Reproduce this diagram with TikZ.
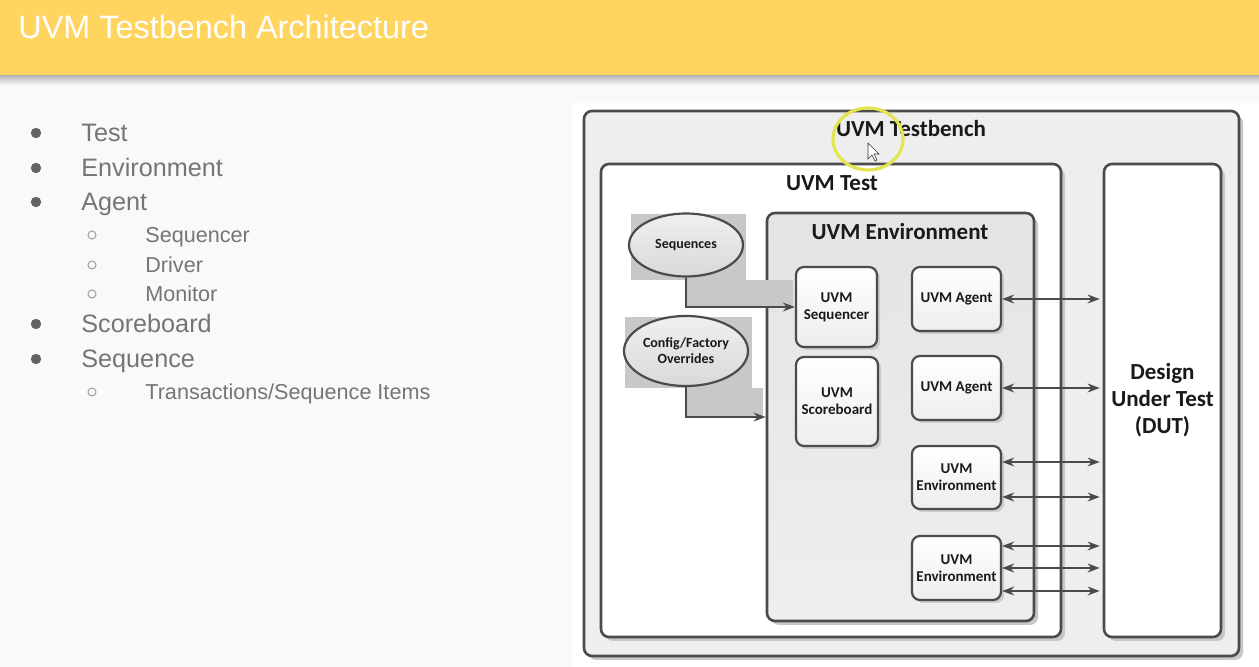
\documentclass[tikz,border=0pt]{standalone}
\usepackage{fontspec}
\setmainfont{Liberation Sans}
\newfontfamily\diafont{Carlito}
\usetikzlibrary{arrows,arrows.meta,positioning,shapes.geometric,shadows}
\definecolor{slideyellow}{RGB}{255,213,95}
\definecolor{slidegray}{RGB}{117,117,117}
\definecolor{slidebg}{RGB}{249,249,249}
\definecolor{linegray}{RGB}{75,75,75}
\definecolor{panelgray}{RGB}{238,238,238}
\definecolor{envgray}{RGB}{228,228,228}
\definecolor{blockgray}{RGB}{200,200,200}
\definecolor{pointer}{RGB}{228,228,80}

\begin{document}
\begin{tikzpicture}[x=0.5pt, y=-0.5pt]
\tikzset{
    tbframe/.style={rectangle, rounded corners=4pt, draw=linegray, line width=1.3pt, inner sep=0pt, drop shadow={shadow xshift=2pt, shadow yshift=-2pt, fill=black!22, opacity=1}},
    block/.style={rectangle, rounded corners=4pt, draw=linegray, line width=1.1pt, top color=white, bottom color=black!7, inner sep=1pt, align=center, text=black!90, font=\diafont\bfseries\fontsize{7.5}{8.5}\selectfont, drop shadow={shadow xshift=1.5pt, shadow yshift=-1.5pt, fill=black!20, opacity=1}},
    oval/.style={ellipse, draw=linegray, line width=1.1pt, top color=black!6, bottom color=black!15, inner sep=0pt, align=center, text=black!90, font=\diafont\bfseries\fontsize{7}{8}\selectfont},
    heading/.style={align=center, text=black!90, font=\diafont\bfseries\fontsize{11.5}{13.5}\selectfont},
    myarrow/.style={{Stealth[length=6pt,width=4.4pt]}-{Stealth[length=6pt,width=4.4pt]}, line width=1.3pt, draw=linegray, shorten >=1.5pt},
    feedarrow/.style={-{Stealth[length=6pt,width=4.4pt]}, line width=1.3pt, draw=linegray},
    listitem/.style={anchor=base west, inner sep=0pt, text=slidegray, font=\fontsize{12.6}{15}\selectfont},
    sublistitem/.style={anchor=base west, inner sep=0pt, text=slidegray, font=\fontsize{10.8}{13}\selectfont}
}
\useasboundingbox (0,0) rectangle (1259,667);
\fill[slidebg] (0,0) rectangle (1259,667);

% title bar
\shade[top color=black!30, bottom color=slidebg] (0,75) rectangle (1259,85);
\fill[slideyellow] (0,0) rectangle (1259,75);
\node[anchor=base west, inner sep=0pt, text=white, font=\fontsize{16.2}{19}\selectfont] (title) at (18,39) {UVM Testbench Architecture};

% bullet list
\foreach \n/\yy/\txt in {test/142/Test, env/177/Environment, agent/211/Agent, scb/333/Scoreboard, seq/368/Sequence} {
    \fill[slidegray!85!black] (36,\yy-9) circle (2.6pt);
    \node[listitem] (item-\n) at (81,\yy) {\txt};
}
\foreach \n/\yy/\txt in {sqr/243/Sequencer, drv/273/Driver, mon/302/Monitor} {
    \draw[slidegray!70, line width=0.5pt] (92,\yy-8) circle (2pt);
    \node[sublistitem] (sub-\n) at (145,\yy) {\txt};
}
\draw[slidegray!70, line width=0.5pt] (92,392) circle (2pt);
\node[sublistitem] (sub-trn) at (145,400) {Transactions/Sequence Items};

% diagram
\fill[white] (572,103) rectangle (1259,667);
\node[tbframe, fill=panelgray, minimum width=327.5pt, minimum height=272.5pt] (testbench) at (911.5,383.5) {};
\node[heading] (testbench-title) at (911,129) {UVM Testbench};
\node[tbframe, fill=white, minimum width=230pt, minimum height=236.5pt] (uvmtest) at (831,400.5) {};
\node[heading] (uvmtest-title) at (832,183) {UVM Test};
\node[tbframe, fill=white, heading, minimum width=58.5pt, minimum height=236.5pt] (dut) at (1162.5,400.5) {Design\\Under Test\\(DUT)};
\node[tbframe, top color=envgray, bottom color=panelgray, minimum width=133.5pt, minimum height=204pt] (env) at (900.5,417) {};
\node[heading] (env-title) at (900,232) {UVM Environment};

% grey blocks behind the inputs
\fill[blockgray] (631,214) rectangle (746,280);
\fill[blockgray] (687,280) rectangle (793,307);
\fill[blockgray] (625,317) rectangle (752,388);
\fill[blockgray] (687,388) rectangle (763,417);

\node[oval, minimum width=57pt, minimum height=31.5pt] (sequences) at (686,245) {Sequences};
\node[oval, minimum width=62pt, minimum height=35pt] (config) at (686,351) {Config/Factory\\Overrides};

\node[block, minimum width=40.5pt, minimum height=40pt] (sequencer) at (836.5,307) {UVM\\Sequencer};
\node[block, minimum width=41pt, minimum height=44.5pt] (scoreboard) at (837,401.5) {UVM\\Scoreboard};
\node[block, minimum width=44.5pt, minimum height=32pt] (agentA) at (956.5,299) {UVM Agent};
\node[block, minimum width=44.5pt, minimum height=32pt] (agentB) at (956.5,388) {UVM Agent};
\node[block, minimum width=44.5pt, minimum height=31.5pt] (subenvA) at (956.5,477.5) {UVM\\Environment};
\node[block, minimum width=44.5pt, minimum height=32pt] (subenvB) at (956.5,568) {UVM\\Environment};

\draw[feedarrow] (sequences.south) |- (sequencer.west);
\draw[feedarrow] (config.south) |- (env.west);

\draw[myarrow] (agentA.east) -- (agentA.east -| dut.west);
\draw[myarrow] (agentB.east) -- (agentB.east -| dut.west);
\draw[myarrow] ([yshift=7.75pt]subenvA.east) -- ([yshift=7.75pt]subenvA.east -| dut.west);
\draw[myarrow] ([yshift=-9.75pt]subenvA.east) -- ([yshift=-9.75pt]subenvA.east -| dut.west);
\draw[myarrow] ([yshift=11pt]subenvB.east) -- ([yshift=11pt]subenvB.east -| dut.west);
\draw[myarrow] (subenvB.east) -- (subenvB.east -| dut.west);
\draw[myarrow] ([yshift=-11.5pt]subenvB.east) -- ([yshift=-11.5pt]subenvB.east -| dut.west);

% pointer highlight
\draw[pointer, line width=1.6pt] (868,139) ellipse [x radius=17.5pt, y radius=15.5pt];
\filldraw[fill=white, draw=black!80, line width=0.3pt] (868,143) -- (868,159) -- (872,155) -- (875,161) -- (877,160) -- (874,154) -- (879,154) -- cycle;
\end{tikzpicture}
\end{document}
